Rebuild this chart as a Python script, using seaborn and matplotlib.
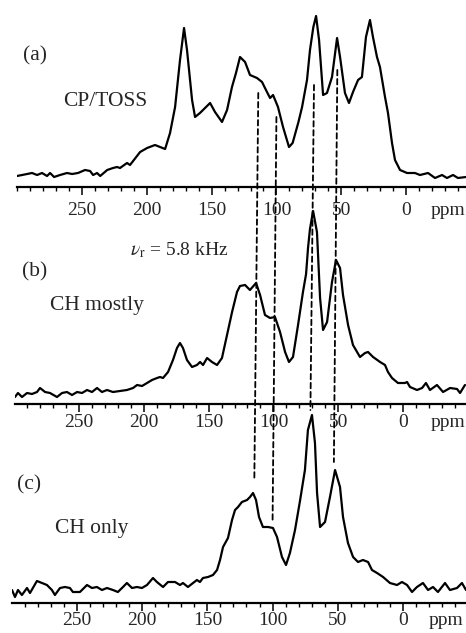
import matplotlib
matplotlib.use("Agg")
import matplotlib.pyplot as plt
import numpy as np
import pandas as pd
import seaborn as sns
from matplotlib.patches import ConnectionPatch
from matplotlib.ticker import FixedLocator, FixedFormatter, MultipleLocator

# ---------------- data ----------------
ppm_a = [300.2, 292.4, 288.6, 284.7, 280.9, 277.0, 274.7, 271.6, 267.0, 261.6, 257.7, 253.1,
         247.7, 243.8, 241.5, 238.4, 236.0, 230.6, 226.1, 223.0, 220.7, 215.3, 213.0, 205.2,
         199.8, 193.7, 189.8, 185.9, 182.1, 178.2, 174.4, 171.3, 169.0, 165.1, 162.8, 159.0,
         155.1, 151.2, 147.4, 142.0, 138.1, 134.3, 131.2, 128.1, 124.2, 120.4, 115.0, 111.1,
         107.3, 104.9, 102.6, 98.8, 94.9, 90.3, 87.5, 83.0, 80.2, 76.4, 74.1, 71.5, 69.4,
         67.1, 64.0, 61.0, 57.1, 53.2, 50.9, 47.1, 44.0, 40.9, 37.0, 34.0, 30.9, 27.8, 25.5,
         22.4, 20.1, 16.2, 13.9, 10.8, 8.5, 4.6, -0.8, -6.9, -10.8, -17.0, -22.4, -27.8,
         -31.6, -36.3, -40.1, -46.3]
int_a = [11, 13, 14, 12, 14, 11, 14, 10, 12, 14, 13, 14,
         17, 16, 12, 14, 11, 17, 19, 20, 19, 24, 22, 35,
         39, 42, 40, 38, 54, 80, 127, 159, 137, 87, 70, 74,
         79, 84, 75, 65, 77, 100, 114, 130, 125, 112, 109, 105,
         95, 89, 92, 80, 60, 40, 44, 65, 80, 107, 137, 160, 171,
         147, 92, 94, 110, 149, 130, 94, 84, 95, 107, 110, 150, 167, 150,
         130, 120, 90, 74, 44, 27, 17, 14, 14, 12, 14, 9, 12,
         9, 12, 9, 10]

ppm_b = [299.4, 297.1, 294.0, 290.1, 286.3, 282.4, 280.1, 276.2, 272.4, 267.0, 263.1, 259.3,
         255.4, 251.5, 247.7, 243.8, 240.0, 236.1, 232.3, 228.4, 223.8, 218.4, 213.0, 208.3,
         205.2, 201.4, 197.5, 193.7, 189.8, 187.5, 185.2, 181.3, 177.5, 174.4, 172.1, 169.8,
         166.7, 162.8, 159.0, 156.6, 154.3, 151.2, 147.4, 143.5, 139.7, 135.8, 131.9, 128.1,
         125.8, 121.9, 118.1, 113.4, 110.3, 106.5, 102.6, 98.8, 94.9, 91.0, 88.0, 84.9, 81.0,
         77.2, 74.8, 73.3, 71.8, 69.4, 66.4, 64.0, 61.7, 58.6, 54.8, 51.7, 48.6, 46.3, 42.4,
         38.6, 33.2, 29.3, 27.0, 23.1, 17.7, 13.9, 11.6, 8.5, 3.9, -1.5, -3.1, -5.4, -10.8,
         -14.7, -17.7, -20.8, -26.2, -30.9, -36.3, -41.7, -44.0, -47.8]
int_b = [7, 11, 7, 11, 10, 12, 16, 12, 11, 7, 11, 12,
         9, 12, 11, 14, 12, 16, 12, 14, 12, 13, 14, 16,
         19, 18, 21, 24, 26, 27, 26, 32, 44, 56, 61, 56,
         44, 37, 39, 42, 39, 46, 42, 39, 46, 69, 92, 112,
         118, 119, 114, 121, 109, 89, 86, 87, 72, 52, 42, 47, 79,
         112, 130, 156, 175, 193, 172, 106, 74, 82, 122, 144, 136, 109, 79,
         59, 47, 51, 52, 47, 42, 39, 32, 26, 21, 21, 22, 17, 14,
         16, 21, 14, 19, 12, 16, 15, 11, 19]

ppm_c = [299.8, 297.5, 295.2, 292.2, 288.3, 286.0, 280.7, 276.8, 273.0, 269.2, 266.9, 263.0,
         259.2, 255.4, 253.1, 247.7, 242.3, 238.5, 234.7, 230.8, 227.0, 222.4, 218.6, 214.7,
         211.7, 207.8, 204.0, 200.2, 196.3, 191.7, 188.7, 184.0, 180.2, 174.8, 171.0, 168.7,
         164.9, 161.0, 158.0, 155.7, 153.4, 149.5, 145.7, 142.6, 140.3, 138.0, 134.2, 131.1,
         128.8, 126.5, 123.5, 119.6, 117.3, 115.0, 112.7, 110.4, 107.4, 103.5, 99.7, 96.6,
         92.8, 89.7, 86.7, 82.8, 79.0, 75.2, 72.9, 69.8, 67.5, 65.9, 63.6, 59.8, 56.0, 52.1,
         48.3, 46.0, 42.2, 38.3, 34.5, 30.7, 26.8, 23.8, 19.9, 15.3, 10.0, 4.6, 0.8, -3.1,
         -6.9, -10.7, -15.3, -19.2, -23.0, -26.8, -32.2, -36.0, -41.4, -45.2, -48.3]
int_c = [13, 6, 13, 8, 15, 10, 22, 20, 18, 13, 8, 15,
         16, 15, 11, 11, 18, 15, 16, 13, 15, 13, 11, 16,
         20, 15, 16, 15, 18, 25, 21, 16, 21, 21, 18, 20,
         16, 20, 23, 21, 25, 26, 28, 33, 43, 56, 65, 83,
         93, 96, 101, 103, 106, 110, 103, 86, 76, 76, 75, 66,
         46, 38, 50, 73, 102, 133, 173, 188, 160, 110, 76, 81, 106, 133,
         116, 86, 60, 46, 41, 43, 41, 33, 30, 26, 20, 18, 21, 18,
         11, 16, 20, 13, 16, 11, 20, 13, 15, 20, 13]

tick_values = [250, 200, 150, 100, 50, 0]
tick_labels = ["250", "200", "150", "100", "50", "0"]
unit_label = "ppm"

panel_tags = ["(a)", "(b)", "(c)"]
panel_names = ["CP/TOSS", "CH mostly", "CH only"]
spin_label = r"$\nu_{\rm r}$ = 5.8 kHz"

# guide lines: ppm, height where they start in (a), height where they end in (c)
guide_ppm = [114, 100, 71, 53]
guide_top_a = [94, 70, 102, 117]
guide_end_c = [123, 83, 193, 141]

# ---------------- styling ----------------
sns.set_style("white")
plt.rcParams["font.family"] = ["Liberation Serif", "DejaVu Serif"]
plt.rcParams["mathtext.fontset"] = "stix"

W, H = 466, 633
fig = plt.figure(figsize=(W / 100, H / 100), dpi=100)

# (left px, axis-line px from top, height px, xlim left, xlim right, unit-label position, pad)
layout = [
    (17, 187, 177, 300.2, -46.3, -32.6, 4.5),
    (15, 404, 199, 299.4, -48.6, -34.8, 1.5),
    (12, 603, 193, 299.8, -48.3, -32.6, 0.8),
]
datasets = [(ppm_a, int_a), (ppm_b, int_b), (ppm_c, int_c)]

axes = []
for (left, base, hgt, xl, xr, unit_pos, pad), (px, iy) in zip(layout, datasets):
    ax = fig.add_axes([left / W, 1 - base / H, 1 - left / W, hgt / H])
    df = pd.DataFrame({"ppm": px, "intensity": iy})
    sns.lineplot(data=df, x="ppm", y="intensity", ax=ax, color="black",
                 linewidth=1.6, estimator=None, sort=False)
    ax.set_xlim(xl, xr)
    ax.set_ylim(0, hgt)
    ax.set_facecolor("none")
    for s in ["top", "left", "right"]:
        ax.spines[s].set_visible(False)
    ax.spines["bottom"].set_linewidth(1.6)
    ax.spines["bottom"].set_color("black")
    ax.set_yticks([])
    ax.set_xlabel("")
    ax.set_ylabel("")
    ax.xaxis.set_major_locator(FixedLocator(tick_values + [unit_pos]))
    ax.xaxis.set_major_formatter(FixedFormatter(tick_labels + [unit_label]))
    ax.xaxis.set_minor_locator(MultipleLocator(10))
    ax.tick_params(axis="x", which="major", direction="out", length=6, width=1.1,
                   labelsize=14, pad=pad, bottom=True, color="black")
    ax.tick_params(axis="x", which="minor", direction="out", length=3, width=1.0,
                   bottom=True, color="black")
    ticks = ax.xaxis.get_major_ticks()
    ticks[-1].tick1line.set_visible(False)
    axes.append(ax)

# panel texts (positions in pixels from top-left)
def put(text, x_px, y_px, size):
    fig.text(x_px / W, 1 - y_px / H, text, fontsize=size, ha="left", va="center")

put(panel_tags[0], 23, 56, 15.5)
put(panel_names[0], 63, 102, 15.5)
put(panel_tags[1], 22, 272, 15.5)
put(spin_label, 130, 250, 14)
put(panel_names[1], 50, 305, 15.5)
put(panel_tags[2], 17, 485, 15.5)
put(panel_names[2], 55, 529, 15.5)

# dashed guide lines from (a) down to (c)
for p, ya, yc in zip(guide_ppm, guide_top_a, guide_end_c):
    con = ConnectionPatch(xyA=(p, ya), coordsA=axes[0].transData,
                          xyB=(p, yc), coordsB=axes[2].transData,
                          color="black", linewidth=1.3, linestyle=(0, (3, 2)))
    fig.add_artist(con)

fig.savefig("out.png", dpi=100)
